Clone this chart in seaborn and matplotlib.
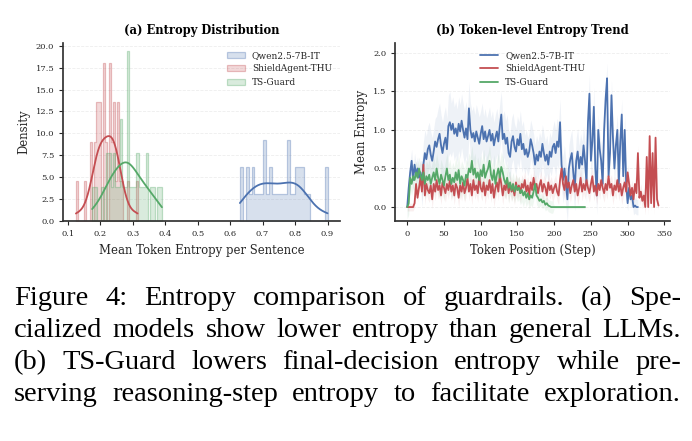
import numpy as np
import seaborn as sns
import matplotlib.pyplot as plt
from matplotlib.colors import to_rgba

# --- (a) per-sentence mean token entropy samples ---
qwen_ent = [0.630, 0.635, 0.652, 0.653, 0.662, 0.670, 0.671, 0.680, 0.689, 0.697,
            0.705, 0.706, 0.708, 0.716, 0.724, 0.725, 0.734, 0.742, 0.752, 0.761,
            0.770, 0.777, 0.778, 0.780, 0.788, 0.797, 0.805, 0.806, 0.814, 0.815,
            0.823, 0.824, 0.832, 0.842, 0.895, 0.900]
shield_ent = [0.125, 0.154, 0.172, 0.174, 0.185, 0.186, 0.191, 0.192, 0.193, 0.197,
              0.198, 0.199, 0.210, 0.211, 0.212, 0.213, 0.216, 0.218, 0.229, 0.230,
              0.231, 0.232, 0.235, 0.237, 0.241, 0.242, 0.243, 0.248, 0.254, 0.255,
              0.256, 0.261, 0.267, 0.287, 0.315]
tsguard_ent = [0.175, 0.186, 0.207, 0.221, 0.222, 0.228, 0.229, 0.236, 0.243, 0.244,
               0.250, 0.257, 0.264, 0.265, 0.266, 0.272, 0.279, 0.284, 0.285, 0.286,
               0.287, 0.288, 0.293, 0.300, 0.308, 0.314, 0.315, 0.322, 0.329, 0.336,
               0.343, 0.344, 0.358, 0.365, 0.379, 0.390]

# --- (b) token-level mean entropy, one value every 2 steps ---
qwen_trend = [0.0, 0.25, 0.45, 0.6, 0.35, 0.55, 0.42, 0.5, 0.38, 0.45,
              0.3, 0.55, 0.7, 0.62, 0.75, 0.8, 0.68, 0.6, 0.72, 0.85,
              0.78, 0.88, 0.95, 0.8, 0.7, 0.82, 0.9, 0.75, 1.05, 1.1,
              1.0, 1.08, 0.95, 1.02, 0.92, 1.08, 0.98, 1.12, 1.0, 0.9,
              1.02, 0.88, 1.28, 1.0, 0.9, 0.96, 0.85, 0.98, 0.9, 0.82,
              0.95, 1.05, 0.88, 0.98, 0.85, 0.92, 1.0, 0.86, 0.95, 0.8,
              0.9, 0.98, 0.85, 1.05, 1.2, 0.88, 0.95, 0.82, 0.9, 0.7,
              0.65, 0.85, 0.92, 0.78, 0.72, 0.88, 0.8, 0.95, 0.75, 0.82,
              0.68, 0.75, 0.65, 0.72, 0.88, 0.8, 0.7, 0.55, 0.68, 0.6,
              0.72, 0.65, 0.82, 0.7, 0.6, 0.68, 0.55, 0.72, 0.65, 0.78,
              0.82, 0.7, 0.85, 0.78, 1.1, 0.55, 0.35, 0.5, 0.3, 0.1,
              0.5, 0.62, 0.7, 0.45, 0.25, 0.6, 0.72, 0.5, 0.65, 0.55,
              0.8, 0.6, 0.3, 1.1, 1.47, 0.6, 0.85, 1.3, 0.5, 0.15,
              1.0, 0.75, 0.6, 0.3, 1.0, 1.4, 1.67, 0.4, 0.7, 1.45,
              0.9, 0.5, 0.8, 1.0, 0.3, 0.85, 1.2, 0.4, 1.0, 0.3,
              0.05, 0.25, 0.1, 0.15, 0.0, 0.02, 0.0, 0.0]
shield_trend = [0.0, 0.0, 0.0, 0.0, 0.0, 0.05, 0.3, 0.12, 0.25, 0.38,
                0.2, 0.55, 0.15, 0.3, 0.22, 0.18, 0.28, 0.1, 0.3, 0.2,
                0.35, 0.22, 0.28, 0.15, 0.32, 0.25, 0.18, 0.3, 0.22, 0.35,
                0.2, 0.28, 0.15, 0.3, 0.25, 0.12, 0.28, 0.2, 0.32, 0.18,
                0.25, 0.38, 0.2, 0.3, 0.15, 0.35, 0.22, 0.28, 0.18, 0.4,
                0.25, 0.2, 0.32, 0.15, 0.28, 0.22, 0.35, 0.18, 0.3, 0.12,
                0.25, 0.32, 0.2, 0.42, 0.3, 0.15, 0.28, 0.22, 0.35, 0.18,
                0.3, 0.2, 0.25, 0.15, 0.32, 0.22, 0.28, 0.18, 0.3, 0.25,
                0.35, 0.2, 0.28, 0.15, 0.32, 0.22, 0.38, 0.25, 0.3, 0.18,
                0.28, 0.35, 0.2, 0.3, 0.25, 0.15, 0.32, 0.22, 0.28, 0.18,
                0.25, 0.3, 0.2, 0.15, 0.35, 0.5, 0.3, 0.22, 0.4, 0.25,
                0.32, 0.18, 0.28, 0.35, 0.2, 0.3, 0.15, 0.25, 0.38, 0.2,
                0.3, 0.22, 0.35, 0.25, 0.18, 0.3, 0.4, 0.2, 0.28, 0.15,
                0.3, 0.22, 0.35, 0.25, 0.18, 0.3, 0.22, 0.4, 0.25, 0.3,
                0.15, 0.28, 0.22, 0.35, 0.2, 0.3, 0.15, 0.25, 0.32, 0.2,
                0.45, 0.3, 0.15, 0.25, 0.1, 0.3, 0.18, 0.7, 0.12, 0.2,
                0.08, 0.15, 0.0, 0.65, 0.0, 0.92, 0.05, 0.7, 0.0, 0.9,
                0.1, 0.02]
tsguard_trend = [0.0, 0.05, 0.38, 0.3, 0.4, 0.35, 0.45, 0.38, 0.5, 0.42,
                 0.35, 0.45, 0.3, 0.4, 0.35, 0.42, 0.3, 0.38, 0.45, 0.35,
                 0.5, 0.38, 0.3, 0.42, 0.35, 0.28, 0.4, 0.5, 0.35, 0.42,
                 0.3, 0.38, 0.32, 0.45, 0.35, 0.48, 0.3, 0.4, 0.35, 0.28,
                 0.42, 0.38, 0.5, 0.45, 0.6, 0.42, 0.5, 0.38, 0.45, 0.35,
                 0.48, 0.4, 0.55, 0.38, 0.45, 0.5, 0.6, 0.42, 0.35, 0.48,
                 0.3, 0.42, 0.5, 0.38, 0.52, 0.45, 0.35, 0.3, 0.38, 0.25,
                 0.32, 0.22, 0.3, 0.2, 0.28, 0.22, 0.25, 0.18, 0.22, 0.15,
                 0.2, 0.12, 0.18, 0.1, 0.15, 0.12, 0.2, 0.3, 0.15, 0.12,
                 0.08, 0.1, 0.06, 0.08, 0.03, 0.05, 0.02, 0.01, 0.0, 0.0,
                 0.0, 0.0, 0.0, 0.0, 0.0, 0.0, 0.0, 0.0, 0.0, 0.0,
                 0.0, 0.0, 0.0, 0.0, 0.0, 0.0, 0.0, 0.0, 0.0, 0.0,
                 0.0, 0.0]
# spread of the shaded band, one value per 20-step block
qwen_band = [0.15, 0.3, 0.4, 0.35, 0.35, 0.3, 0.3, 0.3, 0.25, 0.25, 0.3, 0.3, 0.25, 0.2, 0.2, 0.1]
shield_band = [0.05, 0.12, 0.12, 0.12, 0.12, 0.12, 0.12, 0.12, 0.12, 0.12, 0.12, 0.12, 0.12, 0.12, 0.12, 0.1, 0.1, 0.05]
tsguard_band = [0.15, 0.2, 0.2, 0.2, 0.2, 0.2, 0.2, 0.15, 0.12, 0.08, 0.02, 0.02, 0.02]

labels = ['Qwen2.5-7B-IT', 'ShieldAgent-THU', 'TS-Guard']
caption = ['Figure 4: Entropy comparison of guardrails. (a) Spe-',
           'cialized models show lower entropy than general LLMs.',
           '(b) TS-Guard lowers final-decision entropy while pre-',
           'serving reasoning-step entropy to facilitate exploration.']

sns.set_theme(style='ticks')
plt.rcParams['font.family'] = ['DejaVu Serif']
colors = sns.color_palette('deep')
cols = [colors[0], colors[3], colors[2]]

fig = plt.figure(figsize=(6.92, 4.41), dpi=100)
ax1 = fig.add_axes([0.0915, 0.499, 0.4, 0.404])
ax2 = fig.add_axes([0.5715, 0.499, 0.396, 0.404])

# 1. histogram + kde
for vals, c, lab in zip([qwen_ent, shield_ent, tsguard_ent], cols, labels):
    sns.histplot(x=vals, bins=30, stat='density', element='step', kde=True,
                 color=c, alpha=0.22, edgecolor=to_rgba(c, 0.35), linewidth=0.9,
                 label=lab, ax=ax1, line_kws={'linewidth': 1.3})
ax1.set_title('(a) Entropy Distribution', fontsize=8.3, fontweight='bold', pad=6, color='black')
ax1.set_xlabel('Mean Token Entropy per Sentence', fontsize=8.4)
ax1.set_ylabel('Density', fontsize=8.4)
ax1.set_xticks(np.arange(0.1, 0.95, 0.1))
ax1.set_yticks(np.arange(0, 20.1, 2.5))
ax1.legend(fontsize=6.5, frameon=False, loc='upper right')

# 2. token-level trend
for vals, band, c, lab in zip([qwen_trend, shield_trend, tsguard_trend],
                              [qwen_band, shield_band, tsguard_band], cols, labels):
    steps = np.arange(0, 2 * len(vals), 2)
    v = np.array(vals)
    s = np.repeat(band, 10)[:len(v)]
    ax2.fill_between(steps, v - s, v + s, color=c, alpha=0.09, linewidth=0)
    sns.lineplot(x=steps, y=v, color=c, label=lab, linewidth=1.3, ax=ax2)
ax2.set_title('(b) Token-level Entropy Trend', fontsize=8.3, fontweight='bold', pad=6, color='black')
ax2.set_xlabel('Token Position (Step)', fontsize=8.4)
ax2.set_ylabel('Mean Entropy', fontsize=8.4)
ax2.set_xlim(-16, 357)
ax2.set_ylim(-0.18, 2.13)
ax2.set_yticks([0, 0.5, 1.0, 1.5, 2.0])
ax2.legend(fontsize=6.5, frameon=False, loc='upper center')

for ax in [ax1, ax2]:
    ax.tick_params(labelsize=6, length=3, width=0.8)
    ax.grid(axis='y', linestyle='--', linewidth=0.6, alpha=0.35)
    for sp in ['left', 'bottom']:
        ax.spines[sp].set_color('#333333')
sns.despine(fig=fig)

# 3. caption, justified by hand
fig.canvas.draw()
r = fig.canvas.get_renderer()
W, H = fig.bbox.width, fig.bbox.height
for line, base in zip(caption, [305, 337, 369, 401]):
    words = line.split(' ')
    texts = [fig.text(0, 1 - base / H, w, fontsize=20.5, family='Liberation Serif',
                      va='baseline', color='black')
             for w in words]
    widths = [t.get_window_extent(r).width for t in texts]
    gap = (681 - 14 - sum(widths)) / (len(words) - 1)
    x = 14
    for t, w in zip(texts, widths):
        t.set_x(x / W)
        x += w + gap

plt.savefig('out.png', dpi=100)
